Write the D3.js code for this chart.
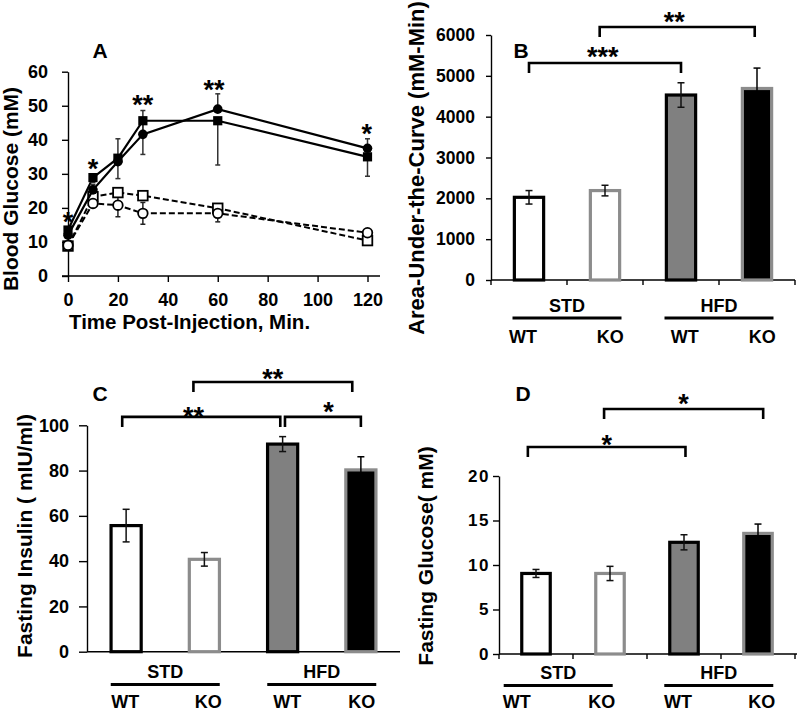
<!DOCTYPE html>
<html><head><meta charset="utf-8">
<script src="https://cdn.jsdelivr.net/npm/d3@7/dist/d3.min.js"></script>
<style>
body{margin:0;background:#fff}
svg{display:block}
text{font-family:"Liberation Sans",Arial,sans-serif;font-weight:bold;fill:#000}
</style>
</head><body>
<svg id="c" width="800" height="712"></svg>
<script>
// ---------------- DATA ----------------
// Panel A: glucose tolerance test
const timeMin = [0, 10, 20, 30, 60, 120];
const glucoseFilledCircle = [12, 25.3, 33.6, 41.6, 49, 37.5];
const glucoseFilledSquare = [13.5, 28.9, 34.6, 45.6, 45.6, 35];
const glucoseOpenCircle = [9, 21.3, 20.8, 18.4, 18.4, 12.7];
const glucoseOpenSquare = [8.8, 23.3, 24.5, 23.6, 19.9, 10.4];
const errFilledCircle = [1, 1.5, 6.7, 7, 4.5, 2.8];
const errFilledSquare = [1.5, 1.5, 6, 9.9, 13, 5.7];
const errOpenCircle = [1, 1, 3.4, 3.2, 2.5, 0.8];
const errOpenSquare = [0.8, 1, 1.2, 1.2, 1, 0.8];
const starsATime = [0, 10, 30, 58.5, 119.7];
const starsALevel = [17.8, 33.4, 52.3, 56.7, 43.8];
const starsALabel = ["*", "*", "**", "**", "*"];
const ticksAX = [0, 20, 40, 60, 80, 100, 120];
const ticksAY = [0, 10, 20, 30, 40, 50, 60];

// Bar panels
const categories = ["STD-WT", "STD-KO", "HFD-WT", "HFD-KO"];
const groupLabels = ["STD", "HFD"];
const subLabels = ["WT", "KO", "WT", "KO"];
const aucValues = [2025, 2190, 4530, 4690];
const aucErrors = [165, 130, 300, 500];
const insulinValues = [55.7, 40.8, 91.7, 80.3];
const insulinErrors = [7.2, 3, 3.3, 5.8];
const fastGlucoseValues = [9.05, 9.05, 12.55, 13.55];
const fastGlucoseErrors = [0.45, 0.8, 0.85, 1.05];
const ticksB = [0, 1000, 2000, 3000, 4000, 5000, 6000];
const ticksC = [0, 20, 40, 60, 80, 100];
const ticksD = [0, 5, 10, 15, 20];
// significance brackets: from/to bar, bracket level (data units), label
const bracketsB = [
  {from: 0, to: 2, level: 5315, label: "***"},
  {from: 1, to: 3, level: 6196, label: "**"}
];
const bracketsC = [
  {from: 0, to: 2, level: 103.7, label: "**"},
  {from: 2, to: 3, level: 103.7, label: "*"},
  {from: 1, to: 3, level: 119.1, label: "**"}
];
const bracketsD = [
  {from: 0, to: 2, level: 23.26, label: "*"},
  {from: 1, to: 3, level: 27.53, label: "*"}
];

// ---------------- DRAWING ----------------
const svg = d3.select("#c");
const FONT = '"Liberation Sans",Arial,sans-serif';

function styleAxis(g) {
  g.selectAll("path.domain").attr("stroke", "#000").attr("stroke-width", 1.4);
  g.selectAll(".tick line").attr("stroke", "#000").attr("stroke-width", 1.4);
  g.selectAll(".tick text").attr("font-family", FONT).attr("font-weight", "bold").attr("fill", "#000");
}

function panelLabel(txt, cx, cy) {
  svg.append("text").attr("x", cx).attr("y", cy + 7.5).attr("text-anchor", "middle")
    .attr("font-size", 21).text(txt);
}

function yTitle(txt, bx, cy, size) {
  svg.append("text").attr("transform", `translate(${bx},${cy}) rotate(-90)`)
    .attr("text-anchor", "middle").attr("font-size", size).text(txt);
}

function star(txt, cx, cy, size) {
  svg.append("text").attr("x", cx).attr("y", cy + 0.58 * size).attr("text-anchor", "middle")
    .attr("font-size", size).text(txt);
}

// ---------- Panel A ----------
(function () {
  const x = d3.scaleLinear().domain([0, 120]).range([68, 367.5]);
  const y = d3.scaleLinear().domain([0, 60]).range([276, 71.7]);
  const g = svg.append("g");

  const ya = g.append("g").attr("transform", "translate(68,0)")
    .call(d3.axisLeft(y).tickValues(ticksAY).tickSize(6).tickSizeOuter(0).tickPadding(14));
  ya.selectAll(".tick text").attr("font-size", 18);
  styleAxis(ya);
  const xa = g.append("g").attr("transform", "translate(0,276)")
    .call(d3.axisBottom(x).tickValues(ticksAX).tickSize(6).tickSizeOuter(0).tickPadding(11));
  xa.selectAll(".tick text").attr("font-size", 18);
  styleAxis(xa);
  xa.select("path.domain").remove();
  g.append("line").attr("x1", 62).attr("x2", 380).attr("y1", 276).attr("y2", 276)
    .attr("stroke", "#000").attr("stroke-width", 1.4);

  const line = d3.line().x((d, i) => x(timeMin[i])).y(d => y(d));

  function errBars(vals, errs, dir, color) {
    vals.forEach((v, i) => {
      const cx = x(timeMin[i]);
      const top = dir >= 0 ? y(v + errs[i]) : y(v);
      const bot = dir <= 0 ? y(v - errs[i]) : y(v);
      g.append("line").attr("x1", cx).attr("x2", cx).attr("y1", top).attr("y2", bot)
        .attr("stroke", color).attr("stroke-width", 1.5);
      if (dir >= 0) g.append("line").attr("x1", cx - 2.5).attr("x2", cx + 2.5).attr("y1", top).attr("y2", top)
        .attr("stroke", color).attr("stroke-width", 1.5);
      if (dir <= 0) g.append("line").attr("x1", cx - 2.5).attr("x2", cx + 2.5).attr("y1", bot).attr("y2", bot)
        .attr("stroke", color).attr("stroke-width", 1.5);
    });
  }

  // dashed (open) series
  g.append("path").datum(glucoseOpenSquare).attr("d", line).attr("fill", "none")
    .attr("stroke", "#000").attr("stroke-width", 2).attr("stroke-dasharray", "6,3");
  g.append("path").datum(glucoseOpenCircle).attr("d", line).attr("fill", "none")
    .attr("stroke", "#000").attr("stroke-width", 2).attr("stroke-dasharray", "6,3");
  errBars(glucoseOpenCircle, errOpenCircle, 0, "#222");
  errBars(glucoseOpenSquare, errOpenSquare, 0, "#222");
  glucoseOpenSquare.forEach((v, i) => {
    g.append("rect").attr("x", x(timeMin[i]) - 4.8).attr("y", y(v) - 4.8).attr("width", 9.6).attr("height", 9.6)
      .attr("fill", "#fff").attr("stroke", "#000").attr("stroke-width", 1.8);
  });
  glucoseOpenCircle.forEach((v, i) => {
    g.append("circle").attr("cx", x(timeMin[i])).attr("cy", y(v)).attr("r", 4.8)
      .attr("fill", "#fff").attr("stroke", "#000").attr("stroke-width", 1.8);
  });

  // solid (filled) series
  g.append("path").datum(glucoseFilledSquare).attr("d", line).attr("fill", "none")
    .attr("stroke", "#000").attr("stroke-width", 2.2);
  g.append("path").datum(glucoseFilledCircle).attr("d", line).attr("fill", "none")
    .attr("stroke", "#000").attr("stroke-width", 2.2);
  errBars(glucoseFilledCircle, errFilledCircle, 1, "#333");
  errBars(glucoseFilledSquare, errFilledSquare, -1, "#333");
  glucoseFilledSquare.forEach((v, i) => {
    g.append("rect").attr("x", x(timeMin[i]) - 4.6).attr("y", y(v) - 4.6).attr("width", 9.2).attr("height", 9.2)
      .attr("fill", "#000");
  });
  glucoseFilledCircle.forEach((v, i) => {
    g.append("circle").attr("cx", x(timeMin[i])).attr("cy", y(v)).attr("r", 4.8).attr("fill", "#000");
  });

  starsATime.forEach((t, i) => star(starsALabel[i], x(t), y(starsALevel[i]), 27));

  yTitle("Blood Glucose (mM)", 18, 189, 21);
  svg.append("text").attr("x", 69).attr("y", 329).attr("font-size", 20.5).text("Time Post-Injection, Min.");
  panelLabel("A", 100, 50);
})();

// ---------- Bar panels ----------
function barPanel(c) {
  const g = svg.append("g");
  const xb = d3.scaleBand().domain(categories).range([c.x0, c.x1]).padding(0);
  const step = xb.step();
  const center = i => xb(categories[0]) + step / 2 + i * step;
  const bw = step * 0.385;
  const y = d3.scaleLinear().domain([0, c.max]).range([c.y0, c.yTop]);

  const ya = g.append("g").attr("transform", `translate(${c.x0},0)`)
    .call(d3.axisLeft(y).tickValues(c.ticks).tickFormat(d3.format("d"))
      .tickSize(c.tickSize).tickSizeOuter(0).tickPadding(c.tickPad));
  ya.selectAll(".tick text").attr("font-size", c.tickFont).attr("letter-spacing", c.letterSpacing || 0);
  styleAxis(ya);

  g.append("line").attr("x1", c.x0).attr("x2", c.xAxisEnd).attr("y1", c.y0).attr("y2", c.y0)
    .attr("stroke", "#000").attr("stroke-width", 1.4);
  if (c.xTicks) {
    const bounds = categories.map(k => xb(k)).concat([xb(categories[3]) + step]);
    bounds.forEach(bx => g.append("line").attr("x1", bx).attr("x2", bx).attr("y1", c.y0).attr("y2", c.y0 + 5)
      .attr("stroke", "#000").attr("stroke-width", 1.4));
  }

  const fills = ["#fff", "#fff", "#808080", "#000"];
  const strokes = ["#000", "#8c8c8c", "#000", "#8c8c8c"];
  c.values.forEach((v, i) => {
    g.append("rect").attr("x", center(i) - bw / 2).attr("y", y(v)).attr("width", bw)
      .attr("height", c.y0 - y(v)).attr("fill", fills[i]).attr("stroke", strokes[i]).attr("stroke-width", 3.2);
  });
  c.values.forEach((v, i) => {
    const cx = center(i), t = y(v + c.errors[i]), b = y(v - c.errors[i]);
    const col = i === 3 ? "#000" : "#111";
    g.append("line").attr("x1", cx).attr("x2", cx).attr("y1", t).attr("y2", b).attr("stroke", col).attr("stroke-width", 1.5);
    [t, b].forEach(yy => g.append("line").attr("x1", cx - 3.5).attr("x2", cx + 3.5).attr("y1", yy).attr("y2", yy)
      .attr("stroke", col).attr("stroke-width", 1.5));
  });

  c.brackets.forEach((br, k) => {
    const off = c.bracketOffsets[k];
    const xa = center(br.from + off[0]), xe = center(br.to + off[1]);
    const by = y(br.level);
    g.append("path").attr("d", `M${xa},${by + 10}V${by}H${xe}V${by + 10}`)
      .attr("fill", "none").attr("stroke", "#000").attr("stroke-width", 2.6);
    const lx = center((br.from + off[0] + br.to + off[1]) / 2 + off[2]);
    star(br.label, lx, by - off[3], 27);
  });

  // group labels
  groupLabels.forEach((gl, k) => {
    const gc = center(c.groupCenters[k]);
    g.append("text").attr("x", gc).attr("y", c.groupY + 6.5).attr("text-anchor", "middle")
      .attr("font-size", 18).text(gl);
    g.append("line").attr("x1", gc - 54.5).attr("x2", gc + 54.5).attr("y1", c.lineY).attr("y2", c.lineY)
      .attr("stroke", "#000").attr("stroke-width", 2.8);
  });
  subLabels.forEach((s, i) => {
    g.append("text").attr("x", center(c.subPos[i])).attr("y", c.subY + 6.5).attr("text-anchor", "middle")
      .attr("font-size", 18).text(s);
  });

  yTitle(c.title, c.titleX, c.titleY, c.titleSize);
  panelLabel(c.label, c.labelX, c.labelY);
}

barPanel({
  x0: 491, x1: 795, xAxisEnd: 795, y0: 280, yTop: 35, max: 6000, ticks: ticksB,
  tickSize: 5, tickPad: 11, tickFont: 17.5, xTicks: true,
  values: aucValues, errors: aucErrors, brackets: bracketsB,
  bracketOffsets: [[0, 0, -0.03, 13], [-0.07, -0.03, -0.04, 12]],
  groupCenters: [0.5, 2.5], subPos: [-0.08, 1.07, 2.05, 3.07],
  groupY: 305, lineY: 318, subY: 336,
  title: "Area-Under-the-Curve (mM-Min)", titleX: 424, titleY: 168, titleSize: 22,
  label: "B", labelX: 521, labelY: 50
});

barPanel({
  x0: 87, x1: 400, xAxisEnd: 400, y0: 651.7, yTop: 425.3, max: 100, ticks: ticksC,
  tickSize: 8, tickPad: 10, tickFont: 18, xTicks: false,
  values: insulinValues, errors: insulinErrors, brackets: bracketsC,
  bracketOffsets: [[-0.05, -0.03, -0.1, 7], [0.03, 0, 0.07, 12], [-0.14, -0.11, 0, 10]],
  groupCenters: [0.5, 2.5], subPos: [-0.01, 1.05, 2.06, 3.01],
  groupY: 671.5, lineY: 684.5, subY: 701.5,
  title: "Fasting Insulin ( mIU/ml)", titleX: 32, titleY: 536, titleSize: 21,
  label: "C", labelX: 100, labelY: 393
});

barPanel({
  x0: 499, x1: 795, xAxisEnd: 797, y0: 654, yTop: 476, max: 20, ticks: ticksD,
  tickSize: 6, tickPad: 3, tickFont: 17, letterSpacing: 1.5, xTicks: true,
  values: fastGlucoseValues, errors: fastGlucoseErrors, brackets: bracketsD,
  bracketOffsets: [[-0.11, 0.02, 0, 9], [-0.08, 0.07, 0, 12]],
  groupCenters: [0.3, 2.47], subPos: [-0.26, 0.89, 1.92, 3.05],
  groupY: 672.5, lineY: 685.5, subY: 701.5,
  title: "Fasting Glucose( mM)", titleX: 433, titleY: 556, titleSize: 21,
  label: "D", labelX: 523, labelY: 393
});
</script>
</body></html>
